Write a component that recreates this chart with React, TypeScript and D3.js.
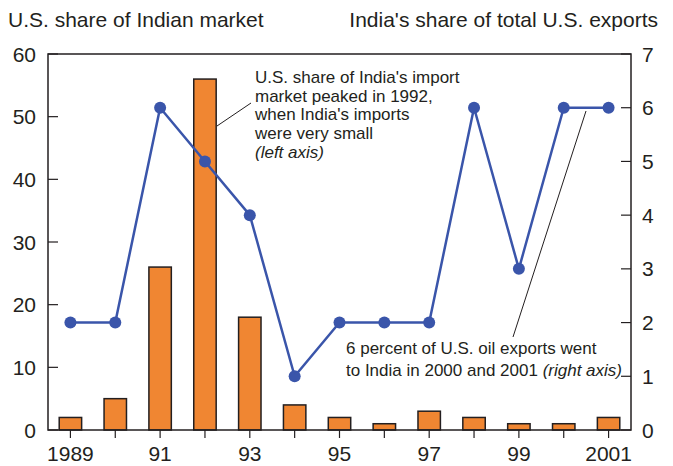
import React from "react";
import * as d3 from "d3";

const years = [1989, 1990, 1991, 1992, 1993, 1994, 1995, 1996, 1997, 1998, 1999, 2000, 2001];
const usShareIndianMarket = [2, 5, 26, 56, 18, 4, 2, 1, 3, 2, 1, 1, 2];
const indiaShareUSExports = [2, 2, 6, 5, 4, 1, 2, 2, 2, 6, 3, 6, 6];
const xTickLabels: Record<number, string> = { 1989: "1989", 1991: "91", 1993: "93", 1995: "95", 1997: "97", 1999: "99", 2001: "2001" };
const leftTicks = [0, 10, 20, 30, 40, 50, 60];
const rightTicks = [0, 1, 2, 3, 4, 5, 6, 7];
const leftTitle = "U.S. share of Indian market";
const rightTitle = "India's share of total U.S. exports";
const note1 = ["U.S. share of India's import", "market peaked in 1992,", "when India's imports", "were very small"];
const note1Italic = "(left axis)";
const note2a = "6 percent of U.S. oil exports went";
const note2b = "to India in 2000 and 2001 ";
const note2Italic = "(right axis)";

const W = 673, H = 466;
const L = 48, R = 631, T = 54, B = 430;
const FONT = "'Liberation Sans', Arial, Helvetica, sans-serif";
const ORANGE = "#F08632";
const BLUE = "#3A55AA";
const INK = "#231F20";

export default function App() {
  const x = d3.scaleBand<number>().domain(years).range([L, R]).padding(0);
  const cx = (yr: number) => (x(yr) as number) + x.bandwidth() / 2;
  const yL = d3.scaleLinear().domain([0, 60]).range([B, T]);
  const yR = d3.scaleLinear().domain([0, 7]).range([B, T]);
  const barW = x.bandwidth() * 0.5;
  const line = d3
    .line<number>()
    .x((_, i) => cx(years[i]))
    .y((d) => yR(d));

  return (
    <svg width={W} height={H} style={{ position: "absolute", left: 0, top: 0, background: "#fff" }} fontFamily={FONT}>
      {/* titles */}
      <text x={8} y={27} fontSize={21} fill={INK}>{leftTitle}</text>
      <text x={658} y={27} fontSize={21} fill={INK} textAnchor="end">{rightTitle}</text>

      {/* bars */}
      {years.map((yr, i) => (
        <rect
          key={yr}
          x={cx(yr) - barW / 2}
          y={yL(usShareIndianMarket[i])}
          width={barW}
          height={B - yL(usShareIndianMarket[i])}
          fill={ORANGE}
          stroke={INK}
          strokeWidth={1.5}
        />
      ))}

      {/* frame */}
      <rect x={L} y={T} width={R - L} height={B - T} fill="none" stroke={INK} strokeWidth={1.5} />

      {/* left ticks */}
      {leftTicks.map((t) => (
        <g key={"l" + t}>
          <line x1={L} x2={L + 10} y1={yL(t)} y2={yL(t)} stroke={INK} strokeWidth={1.2} />
          <text x={36} y={yL(t)} dy="0.36em" fontSize={21} textAnchor="end" fill={INK}>{t}</text>
        </g>
      ))}
      {/* right ticks */}
      {rightTicks.map((t) => (
        <g key={"r" + t}>
          <line x1={R - 10} x2={R} y1={yR(t)} y2={yR(t)} stroke={INK} strokeWidth={1.2} />
          <text x={642} y={yR(t)} dy="0.36em" fontSize={21} fill={INK}>{t}</text>
        </g>
      ))}
      {/* x ticks */}
      {years.map((yr) => (
        <g key={"x" + yr}>
          <line x1={cx(yr)} x2={cx(yr)} y1={B} y2={B + 8} stroke={INK} strokeWidth={1.2} />
          {xTickLabels[yr] && (
            <text x={cx(yr)} y={461} fontSize={21} textAnchor="middle" fill={INK}>{xTickLabels[yr]}</text>
          )}
        </g>
      ))}

      {/* line series */}
      <path d={line(indiaShareUSExports) || ""} fill="none" stroke={BLUE} strokeWidth={2.5} strokeLinejoin="round" />
      {years.map((yr, i) => (
        <circle key={"c" + yr} cx={cx(yr)} cy={yR(indiaShareUSExports[i])} r={6} fill={BLUE} />
      ))}

      {/* annotation 1 */}
      <line x1={217} y1={126} x2={251} y2={103} stroke={INK} strokeWidth={1} />
      {note1.map((s, i) => (
        <text key={"n1" + i} x={255} y={83 + i * 18.7} fontSize={17} fill={INK}>{s}</text>
      ))}
      <text x={255} y={83 + 4 * 18.7} fontSize={17} fontStyle="italic" fill={INK}>{note1Italic}</text>

      {/* annotation 2 */}
      <line x1={513} y1={337} x2={586} y2={111} stroke={INK} strokeWidth={1} />
      <text x={346} y={354} fontSize={17} fill={INK}>{note2a}</text>
      <text x={346} y={376} fontSize={17} fill={INK}>
        {note2b}
        <tspan fontStyle="italic">{note2Italic}</tspan>
      </text>
    </svg>
  );
}
